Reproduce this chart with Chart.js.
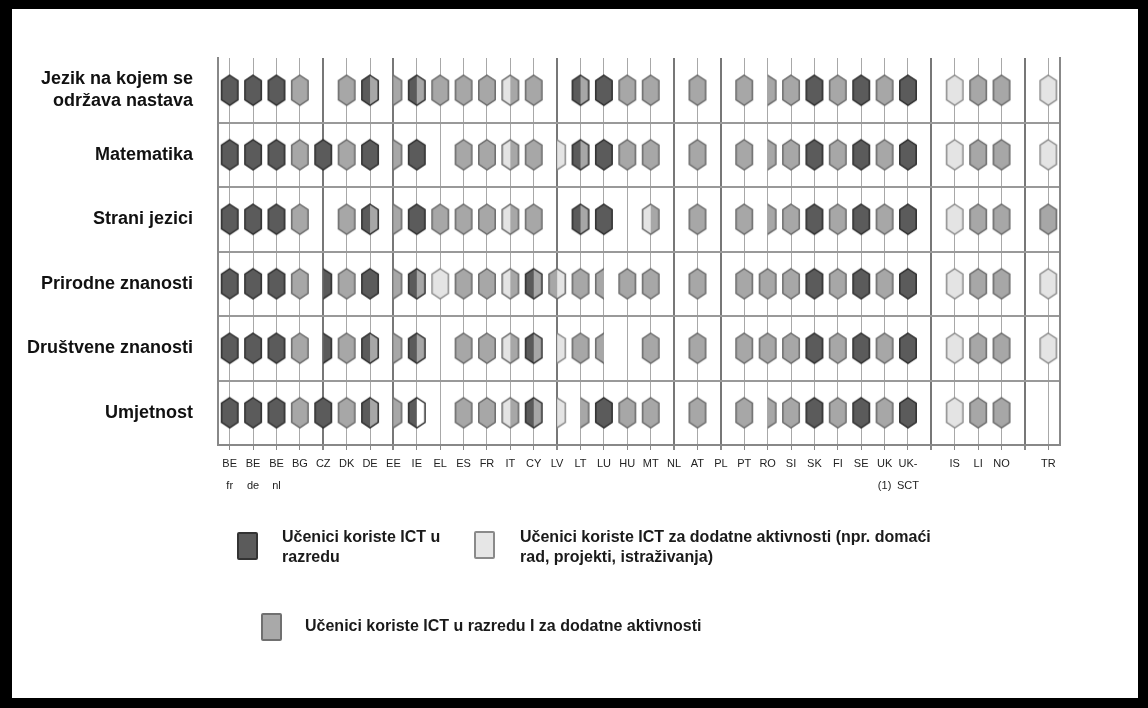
<!DOCTYPE html>
<html>
<head>
<meta charset="utf-8">
<script src="https://cdn.jsdelivr.net/npm/chart.js@4.4.0/dist/chart.umd.min.js"></script>
<style>
  body { margin: 0; background: #fff; }
  #wrap { position: relative; width: 1148px; height: 708px; overflow: hidden; background: #fff; }
  #chart { position: absolute; left: 0; top: 0; }
  #frame { position: absolute; left: 0; top: 0; width: 1148px; height: 708px; box-sizing: border-box;
           border-style: solid; border-color: #000; border-width: 9px 10px 10px 12px; pointer-events: none; }
  .leg { position: absolute; font: bold 16px 'Liberation Sans', Arial, sans-serif; color: #1a1a1a; line-height: 20px; white-space: nowrap; }
  .sw { position: absolute; width: 21px; height: 28px; box-sizing: border-box; border: 2px solid; border-radius: 2px; }
</style>
</head>
<body>
<div id="wrap">
  <canvas id="chart" width="1148" height="708"></canvas>
  <div id="legend"></div>
  <div id="frame"></div>
</div>
<script>
// ===============================
// DATA
// ===============================

const countries = [
  ["BE", "fr"], ["BE", "de"], ["BE", "nl"], "BG", "CZ", "DK", "DE", "EE", "IE", "EL",
  "ES", "FR", "IT", "CY", "LV", "LT", "LU", "HU", "MT", "NL", "AT", "PL", "PT", "RO",
  "SI", "SK", "FI", "SE", ["UK", "(1)"], ["UK-", "SCT"], "", "IS", "LI", "NO", "", "TR"
];

const subjects = [
  ["Jezik na kojem se", "održava nastava"], "Matematika", "Strani jezici",
  "Prirodne znanosti", "Društvene znanosti", "Umjetnost"
];

// D = in class, L = extra activities, M = both
// two letters = left/right halves, r/l prefix = only the right/left half of the marker
const jezik     = ["D","D","D","M","","M","DM","rM","DM","M","M","M","LM","M","","DM","D","M","M","","M","","M","rM","M","D","M","D","M","D","","L","M","M","","L"];
const matematika= ["D","D","D","M","D","M","D","rM","D","","M","M","LM","M","rL","DM","D","M","M","","M","","M","rM","M","D","M","D","M","D","","L","M","M","","L"];
const strani    = ["D","D","D","M","","M","DM","rM","D","M","M","M","LM","M","","DM","D","","LM","","M","","M","rM","M","D","M","D","M","D","","L","M","M","","M"];
const prirodne  = ["D","D","D","M","rD","M","D","rM","DM","L","M","M","LM","DM","ML","M","lM","M","M","","M","","M","M","M","D","M","D","M","D","","L","M","M","","L"];
const drustvene = ["D","D","D","M","rD","M","DM","rM","DM","","M","M","LM","DM","rL","M","lM","","M","","M","","M","M","M","D","M","D","M","D","","L","M","M","","L"];
const umjetnost = ["D","D","D","M","D","M","DM","rM","DW","","M","M","LM","DM","rL","rM","D","M","M","","M","","M","rM","M","D","M","D","M","D","","L","M","M","","" ];

const rows = [jezik, matematika, strani, prirodne, drustvene, umjetnost];

const legendLabels = [
  "Učenici koriste ICT u<br>razredu",
  "Učenici koriste ICT za dodatne aktivnosti (npr. domaći<br>rad, projekti, istraživanja)",
  "Učenici koriste ICT u razredu I za dodatne aktivnosti"
];

// ===============================
// STYLE
// ===============================

const shades = {
  D: ["#5b5b5b", "#2e2e2e"],
  M: ["#a7a7a7", "#6b6b6b"],
  L: ["#e4e4e4", "#8e8e8e"],
  W: ["#ffffff", "#2e2e2e"]
};
const separators = [4, 7, 14, 19, 21, 30, 34];

function makeHex(code) {
  let half = null;
  let parts = code;
  if (code[0] === "r" || code[0] === "l") {
    half = code[0];
    parts = code.slice(1);
  }
  const left = shades[parts[0]];
  const right = shades[parts[1] || parts[0]];
  const outline = (parts.includes("D") ? shades.D : parts.includes("M") ? shades.M : shades.L)[1];

  const c = document.createElement("canvas");
  c.width = 20;
  c.height = 34;
  const g = c.getContext("2d");
  const path = () => {
    g.beginPath();
    g.moveTo(10, 2);
    g.lineTo(18.2, 7.5);
    g.lineTo(18.2, 26.5);
    g.lineTo(10, 32);
    g.lineTo(1.8, 26.5);
    g.lineTo(1.8, 7.5);
    g.closePath();
  };

  g.save();
  if (half) {
    g.beginPath();
    if (half === "r") g.rect(10, 0, 10, 34);
    else g.rect(0, 0, 10, 34);
    g.clip();
  }
  path();
  g.fillStyle = right[0];
  g.fill();
  g.save();
  g.beginPath();
  g.rect(0, 0, 10, 34);
  g.clip();
  path();
  g.fillStyle = left[0];
  g.fill();
  g.restore();
  path();
  g.lineWidth = 1.5;
  g.strokeStyle = outline;
  g.stroke();
  g.restore();
  return c;
}

// points reference the label entries themselves, so the category scales find them
const hexes = {};
const points = [];
rows.forEach((row, r) => {
  row.forEach((code, c) => {
    if (!code) return;
    if (!hexes[code]) hexes[code] = makeHex(code);
    points.push({ x: countries[c], y: subjects[r], code });
  });
});

// ===============================
// LEGEND
// ===============================

const legendEl = document.getElementById("legend");
legendEl.innerHTML = `
  <div class="sw" style="left:237px;top:532px;background:#5b5b5b;border-color:#333"></div>
  <div class="leg" style="left:282px;top:527px">${legendLabels[0]}</div>
  <div class="sw" style="left:474px;top:531px;background:#e6e6e6;border-color:#8a8a8a"></div>
  <div class="leg" style="left:520px;top:527px">${legendLabels[1]}</div>
  <div class="sw" style="left:261px;top:613px;background:#a9a9a9;border-color:#707070"></div>
  <div class="leg" style="left:305px;top:616px">${legendLabels[2]}</div>
`;

// ===============================
// CHART
// ===============================

new Chart(document.getElementById("chart"), {
  type: "scatter",
  data: {
    xLabels: countries,
    yLabels: subjects,
    datasets: [{
      data: points,
      pointStyle: ctx => hexes[ctx.raw.code],
      pointRadius: 10
    }]
  },
  options: {
    responsive: false,
    animation: false,
    layout: { padding: { left: 12, right: 88, top: 58, bottom: 0 } },
    plugins: { legend: { display: false }, tooltip: { enabled: false } },
    scales: {
      x: {
        type: "category",
        offset: true,
        grid: {
          offset: false,
          color: ctx => separators.includes(ctx.index) ? "#777" : "#a8a8a8",
          lineWidth: ctx => separators.includes(ctx.index) ? 2 : 1,
          tickLength: 5,
          tickColor: "#888"
        },
        border: { color: "#888", width: 2 },
        ticks: {
          autoSkip: false,
          maxRotation: 0,
          padding: 3,
          color: "#222",
          font: { family: "'Liberation Sans Narrow', 'Liberation Sans', sans-serif", size: 11, lineHeight: 2 }
        },
        afterFit: s => { s.height = 263; }
      },
      y: {
        type: "category",
        offset: true,
        grid: {
          offset: true,
          drawTicks: false,
          color: ctx => ctx.index === 0 ? "rgba(0,0,0,0)" : "#999",
          lineWidth: 2
        },
        border: { color: "#888", width: 2 },
        ticks: {
          padding: 25,
          color: "#111",
          font: { family: "'Liberation Sans', Arial, sans-serif", size: 18, weight: "bold", lineHeight: 1.2 }
        },
        afterFit: s => { s.width = 206; }
      },
      y2: {
        type: "category",
        offset: true,
        position: "right",
        grid: { display: false },
        ticks: { display: false },
        border: { color: "#888", width: 2 },
        afterFit: s => { s.width = 0; }
      }
    }
  }
});
</script>
</body>
</html>
